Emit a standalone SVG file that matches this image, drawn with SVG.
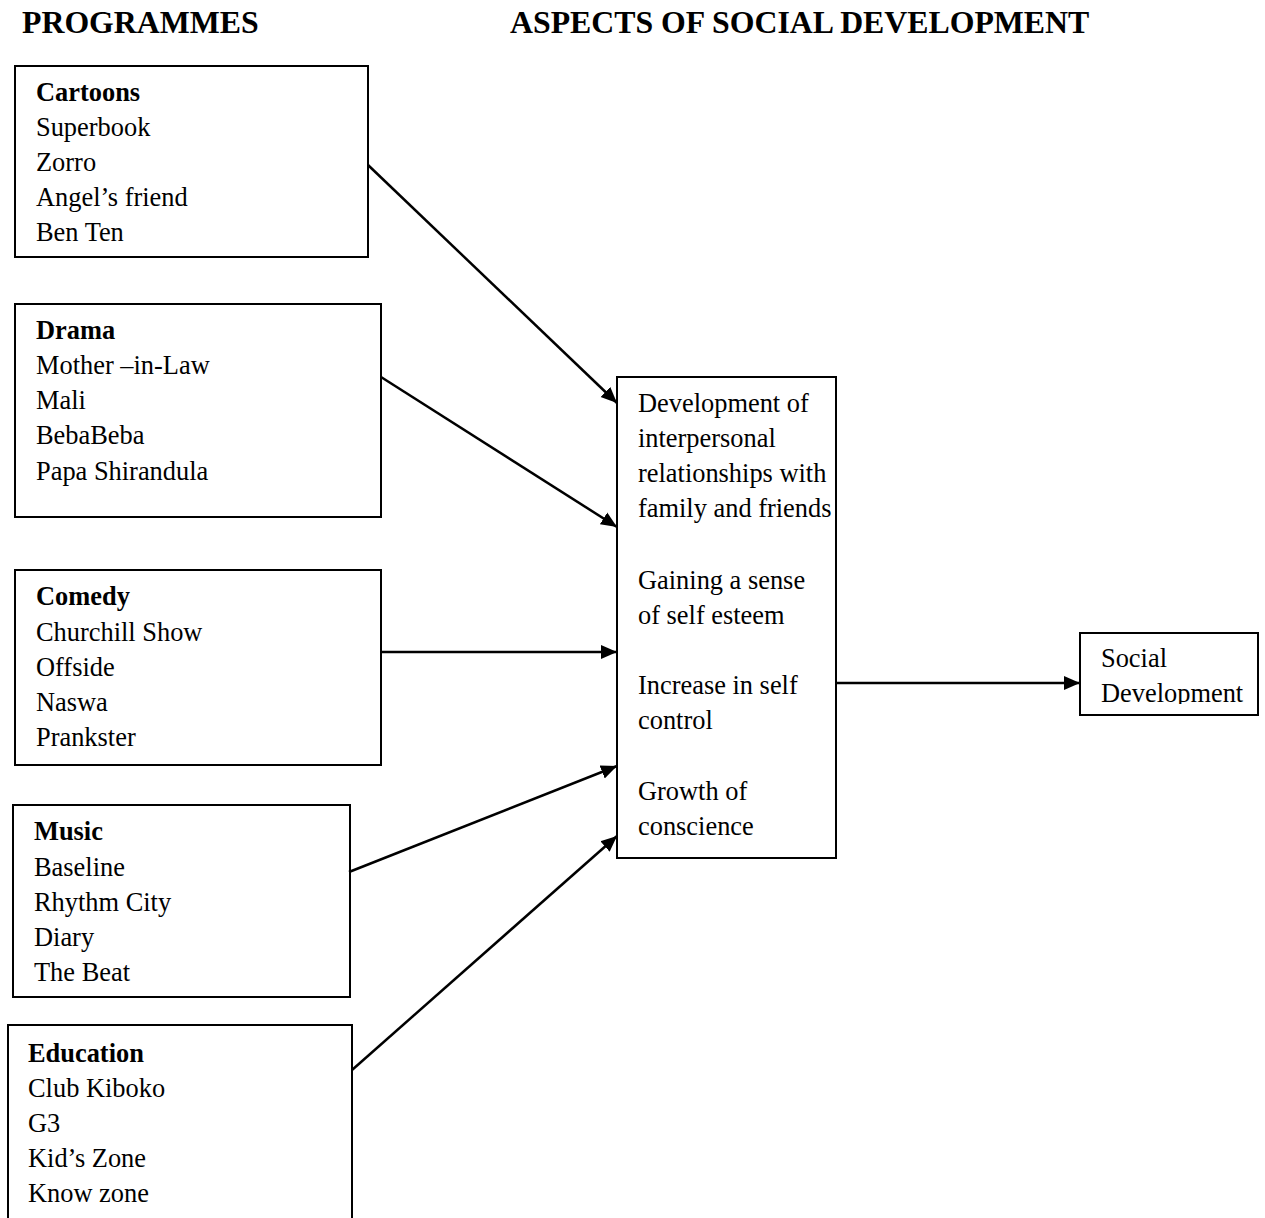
<svg xmlns="http://www.w3.org/2000/svg" width="1265" height="1218" viewBox="0 0 1265 1218">
<style>
text{font-family:"Liberation Serif","Times New Roman",serif;fill:#000}
.h{font-size:31.8px;font-weight:bold}
.t{font-size:26.4px}
.b{font-weight:bold}
.box{fill:none;stroke:#000;stroke-width:2}
.c{stroke:#000;stroke-width:2.5;fill:none}
</style>
<defs>
<marker id="ah" markerUnits="userSpaceOnUse" markerWidth="16" markerHeight="16" refX="16" refY="8" orient="auto">
<path d="M0,1 L16,8 L0,15 z" fill="#000"/>
</marker>
<clipPath id="sdclip"><rect x="1080" y="633" width="180" height="71"/></clipPath>
</defs>
<text class="h" x="22" y="33">PROGRAMMES</text>
<text class="h" x="510" y="33">ASPECTS OF SOCIAL DEVELOPMENT</text>

<g id="cartoons">
<rect class="box" x="15" y="66" width="353" height="191"/>
<text class="t" x="36"><tspan class="b" x="36" y="101">Cartoons</tspan><tspan x="36" y="136">Superbook</tspan><tspan x="36" y="171">Zorro</tspan><tspan x="36" y="206">Angel’s friend</tspan><tspan x="36" y="241">Ben Ten</tspan></text>
</g>
<g id="drama">
<rect class="box" x="15" y="304" width="366" height="213"/>
<text class="t" x="36"><tspan class="b" x="36" y="339">Drama</tspan><tspan x="36" y="374">Mother –in-Law</tspan><tspan x="36" y="409">Mali</tspan><tspan x="36" y="444">BebaBeba</tspan><tspan x="36" y="480">Papa Shirandula</tspan></text>
</g>
<g id="comedy">
<rect class="box" x="15" y="570" width="366" height="195"/>
<text class="t" x="36"><tspan class="b" x="36" y="605">Comedy</tspan><tspan x="36" y="641">Churchill Show</tspan><tspan x="36" y="676">Offside</tspan><tspan x="36" y="711">Naswa</tspan><tspan x="36" y="746">Prankster</tspan></text>
</g>
<g id="music">
<rect class="box" x="13" y="805" width="337" height="192"/>
<text class="t" x="34"><tspan class="b" x="34" y="840">Music</tspan><tspan x="34" y="876">Baseline</tspan><tspan x="34" y="911">Rhythm City</tspan><tspan x="34" y="946">Diary</tspan><tspan x="34" y="981">The Beat</tspan></text>
</g>
<g id="education">
<path class="box" d="M8,1220 V1025 H352 V1220"/>
<text class="t" x="28"><tspan class="b" x="28" y="1062">Education</tspan><tspan x="28" y="1097">Club Kiboko</tspan><tspan x="28" y="1132">G3</tspan><tspan x="28" y="1167">Kid’s Zone</tspan><tspan x="28" y="1202">Know zone</tspan></text>
</g>
<g id="aspects">
<rect class="box" x="617" y="377" width="219" height="481"/>
<text class="t" x="638"><tspan x="638" y="412">Development of</tspan><tspan x="638" y="447">interpersonal</tspan><tspan x="638" y="482">relationships with</tspan><tspan x="638" y="517">family and friends</tspan><tspan x="638" y="589">Gaining a sense</tspan><tspan x="638" y="624">of self esteem</tspan><tspan x="638" y="694">Increase in self</tspan><tspan x="638" y="729">control</tspan><tspan x="638" y="800">Growth of</tspan><tspan x="638" y="835">conscience</tspan></text>
</g>
<g id="social">
<rect class="box" x="1080" y="633" width="178" height="82"/>
<text class="t" x="1101" clip-path="url(#sdclip)"><tspan x="1101" y="667">Social</tspan><tspan x="1101" y="702">Development</tspan></text>
</g>
<g id="connectors">
<line class="c" x1="368" y1="165" x2="617" y2="403" marker-end="url(#ah)"/>
<line class="c" x1="381" y1="377" x2="617" y2="527" marker-end="url(#ah)"/>
<line class="c" x1="381" y1="652" x2="617" y2="652" marker-end="url(#ah)"/>
<line class="c" x1="349" y1="872" x2="617" y2="766" marker-end="url(#ah)"/>
<line class="c" x1="352" y1="1070" x2="617" y2="836" marker-end="url(#ah)"/>
<line class="c" x1="836" y1="683" x2="1080" y2="683" marker-end="url(#ah)"/>
</g>
</svg>
